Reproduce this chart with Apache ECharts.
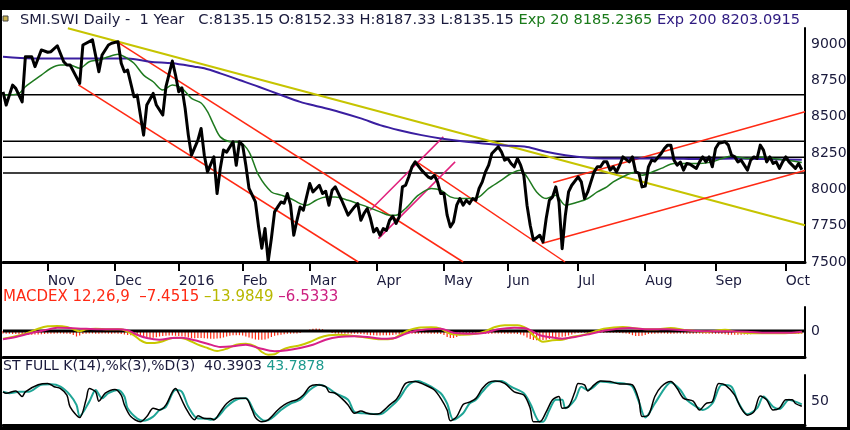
<!DOCTYPE html>
<html>
<head>
<meta charset="utf-8">
<title>SMI.SWI Daily</title>
<script src="https://cdn.jsdelivr.net/npm/echarts@6/dist/echarts.min.js"></script>
<style>
html, body { margin: 0; padding: 0; background: #000; }
#chart { width: 850px; height: 430px; }
</style>
</head>
<body>
<div id="chart"></div>
<script>
// trading-day index (0 = mid Oct 2015) -> month tick labels
var monthDay = [14, 35, 55, 75, 96, 117, 138, 158, 180, 201, 223, 245];
var monthName = ['Nov', 'Dec', '2016', 'Feb', 'Mar', 'Apr', 'May', 'Jun', 'Jul', 'Aug', 'Sep', 'Oct'];

// close prices [day, value]
var close = [[0,8671],[1,8580],[3,8717],[4,8695],[6,8602],[7,8912],[9,8912],[10,8844],[12,8959],[14,8943],[15,8947],[17,8988],[19,8878],[20,8855],[21,8855],[24,8729],[25,8993],[28,9028],[30,8809],[31,8924],[33,8993],[34,9005],[36,9016],[37,8867],[38,8809],[39,8820],[41,8637],[42,8649],[44,8373],[45,8580],[47,8660],[48,8580],[50,8511],[51,8706],[53,8883],[54,8786],[55,8671],[56,8698],[57,8557],[58,8373],[59,8235],[61,8339],[62,8419],[63,8235],[64,8120],[66,8223],[67,7971],[68,8144],[69,8270],[70,8256],[72,8327],[73,8166],[74,8327],[75,8304],[76,8166],[77,8006],[79,7913],[80,7741],[81,7594],[82,7730],[83,7505],[84,7663],[85,7845],[86,7879],[87,7913],[88,7904],[89,7971],[90,7891],[91,7684],[92,7787],[93,7879],[94,7856],[96,8040],[97,7982],[99,8028],[100,7971],[101,7987],[102,7891],[103,7994],[104,8017],[106,7925],[108,7822],[110,7879],[111,7902],[112,7787],[113,7835],[114,7868],[115,7799],[116,7707],[117,7732],[118,7684],[119,7730],[120,7718],[121,7787],[122,7815],[123,7765],[124,7810],[125,8017],[126,8028],[127,8086],[128,8155],[129,8189],[131,8132],[133,8086],[134,8075],[135,8097],[136,8051],[137,7971],[138,7973],[139,7822],[140,7741],[141,7776],[142,7891],[143,7937],[144,7891],[145,7925],[146,7902],[147,7937],[148,7925],[149,8006],[150,8051],[151,8120],[152,8166],[153,8247],[155,8292],[156,8258],[157,8201],[158,8212],[159,8178],[160,8155],[161,8212],[162,8166],[163,8097],[164,7891],[165,7753],[166,7650],[168,7684],[169,7638],[170,7799],[171,7925],[172,7948],[173,8017],[174,7913],[175,7592],[176,7822],[177,7982],[178,8028],[180,8086],[181,8051],[182,7937],[183,7982],[184,8051],[185,8120],[186,8155],[187,8155],[188,8189],[189,8189],[190,8132],[191,8155],[192,8120],[193,8166],[194,8223],[196,8189],[197,8223],[198,8120],[199,8111],[200,8017],[201,8022],[202,8155],[203,8201],[204,8194],[206,8247],[207,8281],[208,8304],[209,8304],[210,8201],[211,8166],[212,8187],[213,8132],[214,8178],[215,8173],[217,8144],[218,8189],[219,8223],[220,8189],[221,8223],[222,8155],[223,8281],[224,8316],[226,8327],[227,8304],[228,8235],[229,8223],[230,8189],[231,8201],[233,8132],[234,8201],[235,8223],[236,8212],[237,8304],[238,8270],[239,8189],[240,8223],[241,8178],[242,8189],[243,8144],[244,8189],[245,8223],[246,8189],[248,8144],[249,8178],[250,8135]];

var exp20 = [[0,8649],[1,8649],[5,8660],[7,8706],[12,8786],[15,8833],[18,8855],[21,8855],[24,8833],[27,8878],[30,8890],[33,8912],[36,8929],[38,8912],[41,8867],[44,8786],[47,8740],[50,8683],[53,8717],[56,8695],[59,8626],[62,8594],[64,8534],[66,8442],[68,8361],[71,8327],[74,8323],[77,8258],[80,8097],[84,7982],[87,7960],[90,7937],[93,7902],[95,7891],[98,7925],[101,7948],[104,7948],[108,7925],[111,7902],[114,7879],[118,7845],[121,7822],[123,7822],[126,7868],[127,7891],[130,7960],[134,8006],[137,7994],[140,7948],[143,7937],[146,7937],[149,7948],[152,8006],[156,8063],[159,8109],[162,8132],[164,8086],[167,7982],[170,7937],[173,7960],[176,7891],[180,7913],[183,7937],[186,7982],[189,8017],[191,8051],[195,8097],[198,8120],[200,8097],[202,8109],[206,8144],[210,8178],[214,8178],[218,8178],[222,8189],[225,8212],[228,8230],[233,8212],[237,8223],[241,8212],[245,8201],[250,8185]];

var exp200 = [[0,8912],[9,8901],[20,8901],[30,8901],[39,8901],[46,8878],[53,8867],[60,8844],[63,8833],[68,8798],[74,8752],[80,8706],[87,8649],[93,8602],[99,8568],[105,8534],[112,8488],[118,8442],[124,8407],[131,8373],[137,8350],[145,8327],[156,8304],[164,8292],[170,8258],[176,8235],[183,8217],[188,8212],[197,8212],[208,8212],[218,8208],[229,8212],[239,8208],[250,8203]];

// drawn studies
var levels = [8650, 8330, 8220, 8113];
var yellowTrend = [[20.3, 9108], [251, 7753]];
var redTrends = [
    [[35.6, 9016], [144, 7500]],
    [[23.6, 8718], [111.2, 7500]],
    [[129.5, 8189], [175.9, 7500]],
    [[168.6, 7627], [251, 8130]],
    [[172.2, 8047], [251, 8534]]
];
var pinkTrends = [
    [[114.9, 7856], [137.8, 8361]],
    [[117.5, 7661], [141.5, 8189]]
];

// MACD 12,26,9
var macdLine = [[0,-77],[3,-60],[7,-27],[11,23],[14,47],[17,50],[20,40],[22,17],[24,-3],[26,17],[29,23],[33,17],[37,17],[39,-7],[41,-43],[43,-93],[45,-120],[48,-117],[50,-103],[52,-77],[54,-67],[57,-77],[61,-137],[64,-170],[67,-200],[70,-177],[73,-137],[76,-127],[79,-153],[81,-210],[83,-237],[85,-233],[87,-193],[90,-160],[93,-143],[96,-110],[99,-67],[102,-43],[105,-37],[110,-50],[114,-67],[118,-83],[122,-77],[124,-43],[127,7],[130,33],[134,37],[137,23],[140,-27],[144,-37],[148,-27],[151,-3],[154,40],[157,57],[161,57],[164,23],[166,-43],[169,-107],[172,-93],[175,-87],[178,-60],[182,-37],[185,-7],[188,23],[194,40],[199,23],[204,17],[209,30],[214,7],[220,-7],[226,13],[230,-13],[235,-23],[242,-23],[246,-20],[250,-14]];
var macdSignal = [[0,-83],[4,-60],[8,-27],[13,7],[17,33],[21,30],[25,23],[30,17],[36,17],[39,7],[42,-37],[45,-70],[49,-87],[53,-70],[56,-67],[60,-93],[64,-127],[68,-160],[72,-153],[76,-137],[80,-170],[85,-203],[89,-193],[93,-170],[97,-137],[101,-87],[105,-60],[110,-53],[114,-60],[119,-77],[123,-67],[126,-27],[129,0],[131,10],[133,17],[137,23],[141,-17],[147,-27],[151,-17],[155,17],[160,33],[164,23],[168,-43],[171,-60],[175,-77],[179,-60],[184,-27],[189,7],[196,30],[202,17],[208,17],[214,7],[221,-3],[227,-3],[233,-7],[239,-17],[246,-17],[250,-6.5]];
var macdHist = [
    -25,-27,-27,-30,-30,-32,-35,-37,-37,-37,-35,-35,-33,
    -30,-28,-27,-27,-25,-25,-27,-27,-30,-40,-55,
    -45,-30,-27,-25,-25,-27,-27,-25,-25,-27,-27,-25,-27,-30,-35,
    -40,-43,-45,-50,-60,-68,-70,-70,-68,-62,
    -55,-50,-48,-45,-45,-48,-50,-52,-58,
    -65,-70,-72,-70,-70,-72,-75,-77,-77,-75,-72,-65,
    -55,-48,-43,-42,-42,-45,-55,-65,
    -75,-85,-88,-88,-85,-75,-60,-48,-43,-38,
    -32,-28,-27,-25,-25,-20,-10,0,15,22,25,23,18,8,
    -10,-20,-25,-27,-27,-27,-27,-27,-27,-27,-30,-33,
    -38,-42,-43,-45,-45,-43,-43,-42,-40,-35,-30,-27,-25,-25,-27,-27,-27,
    -27,-25,-25,-27,-27,-28,-30,-40,-60,-70,-70,-60,
    -45,-35,-30,-27,-27,-25,-25,-25,-27,-27,-27,-25,-25,-25,-27,-27,-27,-27,-30,-35,-45,
    -65,-80,-90,-93,-93,-90,-88,-80,-72,-65,-60,-58,-55,-45,-35,
    -25,-20,-18,-17,-17,-17,-15,-15,-17,-17,-17,-17,-17,-17,-20,-22,-25,-30,
    -42,-50,-50,-48,-40,
    -30,-27,-27,-25,-25,-25,-27,-27,-27,-25,-25,-27,-27,-27,-27,-25,-25,-27,-27,-27,-27,-28,-28,-30,
    -33,-37,-37,-38,-37,-37,-35,-35,-32,
    -27,-27,-25,-25,-27,-27,-27,-25,-25,-27,-27,-27,-25,-25,-27,-27
];

// Stochastic full 14,3,3
var stochK = [[0,71],[1,68],[4,73],[6,61],[7,71],[11,86],[14,89],[16,82],[18,78],[20,64],[21,39],[24,16],[26,54],[27,78],[29,71],[30,51],[32,68],[35,76],[37,64],[38,43],[40,18],[43,7],[45,18],[47,36],[49,32],[51,43],[53,71],[54,78],[55,68],[57,39],[60,11],[61,20],[63,14],[65,14],[66,11],[68,28],[70,46],[73,57],[75,57],[76,57],[78,32],[79,16],[81,7],[83,11],[86,32],[88,43],[90,50],[92,54],[94,64],[96,82],[98,86],[101,82],[102,71],[104,68],[106,57],[108,43],[110,25],[112,30],[114,25],[116,23],[118,25],[121,43],[123,54],[124,64],[126,89],[129,93],[132,86],[135,75],[137,57],[139,32],[140,9],[142,18],[144,44],[146,49],[148,57],[150,78],[152,91],[154,94],[157,89],[160,71],[163,64],[165,36],[166,7],[168,7],[170,28],[172,54],[174,61],[175,36],[177,39],[179,71],[180,89],[182,86],[183,73],[185,86],[187,94],[190,93],[193,88],[195,88],[197,86],[199,54],[200,18],[202,21],[204,61],[206,82],[209,93],[211,78],[213,57],[216,51],[218,32],[220,46],[222,50],[224,89],[226,86],[229,64],[231,36],[233,21],[235,28],[237,62],[239,54],[241,32],[243,36],[245,54],[247,54],[248,46],[250,40]];
var stochD = [[0,71],[2,68],[5,71],[8,71],[12,86],[15,87],[18,82],[21,64],[23,43],[24,19],[27,50],[29,75],[31,57],[33,68],[36,75],[38,61],[39,36],[42,14],[44,9],[47,18],[49,32],[51,39],[54,75],[56,71],[58,39],[61,14],[63,14],[65,11],[67,16],[70,39],[73,54],[76,57],[79,25],[82,9],[84,14],[87,32],[90,46],[93,54],[96,75],[99,86],[102,78],[104,68],[108,54],[110,28],[113,25],[118,23],[122,43],[124,57],[127,86],[130,94],[132,89],[134,82],[137,68],[139,46],[141,11],[144,25],[146,46],[148,54],[150,71],[153,91],[156,94],[159,82],[163,68],[165,46],[168,7],[169,7],[171,32],[173,54],[175,54],[176,36],[179,54],[181,82],[183,75],[185,82],[187,93],[190,91],[195,88],[197,82],[199,50],[201,16],[204,46],[207,78],[209,91],[212,75],[214,54],[217,39],[219,32],[222,46],[225,86],[228,82],[230,50],[233,23],[236,36],[238,61],[241,39],[243,34],[246,54],[248,50],[250,44]];

var FONT = 'DejaVu Sans';
var NAVY = '#1a1a3c';
var lastDay = 251;

function plainLine(name, data, color, width, xi, extra) {
    var s = {
        name: name, type: 'line', data: data,
        xAxisIndex: xi, yAxisIndex: xi,
        symbol: 'none', silent: true,
        lineStyle: { color: color, width: width }
    };
    for (var k in extra) s[k] = extra[k];
    return s;
}

function bottomAxis(gi) {
    return {
        gridIndex: gi, type: 'value', min: 0, max: lastDay,
        axisLine: { show: true, onZero: false, lineStyle: { color: '#000', width: 3 } },
        axisTick: { show: false }, axisLabel: { show: false }, splitLine: { show: false }
    };
}

function rightAxis(gi, min, max, interval, fmt) {
    return {
        gridIndex: gi, type: 'value', position: 'right', min: min, max: max, interval: interval,
        axisLine: { show: true, onZero: false, lineStyle: { color: '#000', width: 2 } },
        axisTick: { show: false }, splitLine: { show: false },
        axisLabel: { color: NAVY, fontSize: 14, fontFamily: FONT, margin: 6, showMaxLabel: false, formatter: fmt }
    };
}

var series = [];
levels.forEach(function (v) {
    series.push(plainLine('level', [[0, v], [lastDay, v]], '#000', 1.5, 0));
});
series.push(plainLine('trend', yellowTrend, '#c6c400', 2, 0));
redTrends.forEach(function (t) { series.push(plainLine('red', t, '#ff2a14', 1.5, 0)); });
pinkTrends.forEach(function (t) { series.push(plainLine('pink', t, '#e0207c', 1.5, 0)); });
series.push(plainLine('Exp 200', exp200, '#3a1ea0', 2, 0, { smooth: 0.3 }));
series.push(plainLine('Exp 20', exp20, '#1f7a1f', 1.5, 0, { smooth: 0.3 }));
series.push(plainLine('Close', close, '#000', 3, 0, { lineStyle: { color: '#000', width: 3, join: 'round' } }));

series.push({
    name: 'hist', type: 'bar', xAxisIndex: 1, yAxisIndex: 1, silent: true,
    data: macdHist.map(function (v, i) { return [i, v]; }),
    barWidth: 1.2, itemStyle: { color: '#ff2a10' }
});
series.push(plainLine('zero', [[0, 0], [lastDay, 0]], '#000', 3, 1));
series.push(plainLine('MACD', macdLine, '#c8c800', 2, 1, { smooth: 0.3 }));
series.push(plainLine('Signal', macdSignal, '#d8208a', 2, 1, { smooth: 0.3 }));

series.push(plainLine('%D', stochD, '#1ea596', 2, 2, { smooth: 0.3 }));
series.push(plainLine('%K', stochK, '#000', 1.5, 2, { smooth: 0.3 }));

var mainX = bottomAxis(0);
mainX.axisTick = { show: true, customValues: monthDay, length: 9, lineStyle: { color: '#000', width: 2 } };
mainX.axisLabel = {
    show: true, customValues: monthDay, align: 'left', margin: 12,
    color: NAVY, fontSize: 14, fontFamily: FONT,
    formatter: function (v) { return monthName[monthDay.indexOf(v)] || ''; }
};

var option = {
    animation: false,
    backgroundColor: '#000',
    graphic: {
        elements: [
            { type: 'rect', z: -100, silent: true, shape: { x: 2, y: 10, width: 845, height: 417 }, style: { fill: '#fff' } },
            { type: 'rect', silent: true, shape: { x: 3, y: 16, width: 5, height: 5 }, style: { fill: '#c8b04a', stroke: '#444', lineWidth: 1 } }
        ]
    },
    title: [
        {
            left: 20, top: 13, padding: 0,
            text: '{n|SMI.SWI Daily -  1 Year   C:8135.15 O:8152.33 H:8187.33 L:8135.15 }{g|Exp 20 8185.2365 }{p|Exp 200 8203.0915}',
            textStyle: {
                fontFamily: FONT, fontSize: 14.6, fontWeight: 'normal',
                rich: {
                    n: { color: NAVY, fontFamily: FONT, fontSize: 14.6 },
                    g: { color: '#1a7a1a', fontFamily: FONT, fontSize: 14.6 },
                    p: { color: '#2e1a80', fontFamily: FONT, fontSize: 14.6 }
                }
            }
        },
        {
            left: 3, top: 290, padding: 0,
            text: '{r|MACDEX 12,26,9  \u20137.4515 }{y|\u201313.9849 }{m|\u20136.5333}',
            textStyle: {
                fontFamily: FONT, fontSize: 15, fontWeight: 'normal',
                rich: {
                    r: { color: '#ff2a14', fontFamily: FONT, fontSize: 15 },
                    y: { color: '#b8b800', fontFamily: FONT, fontSize: 15 },
                    m: { color: '#cc2080', fontFamily: FONT, fontSize: 15 }
                }
            }
        },
        {
            left: 3, top: 359, padding: 0,
            text: '{k|ST FULL K(14),%k(3),%D(3)  40.3903 }{d|43.7878}',
            textStyle: {
                fontFamily: FONT, fontSize: 14, fontWeight: 'normal',
                rich: {
                    k: { color: NAVY, fontFamily: FONT, fontSize: 14 },
                    d: { color: '#1e9a8e', fontFamily: FONT, fontSize: 14 }
                }
            }
        }
    ],
    grid: [
        { left: 3, right: 45, top: 28, height: 234 },
        { left: 3, right: 45, top: 307, height: 50 },
        { left: 3, right: 45, top: 375, height: 50 }
    ],
    xAxis: [mainX, bottomAxis(1), bottomAxis(2)],
    yAxis: [
        rightAxis(0, 7500, 9110, 250, function (v) { return String(v); }),
        rightAxis(1, -260, 240, 260, function (v) { return v === 0 ? '0' : ''; }),
        rightAxis(2, 0, 107, 50, function (v) { return v === 50 ? '50' : ''; })
    ],
    series: series
};

var chart = echarts.init(document.getElementById('chart'));
chart.setOption(option);
</script>
</body>
</html>
